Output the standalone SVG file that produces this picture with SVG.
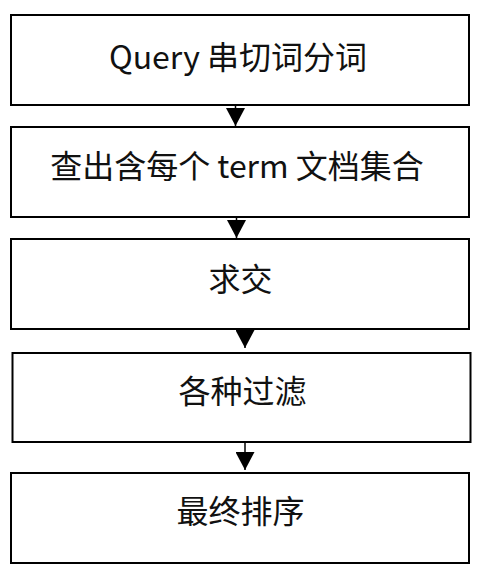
<svg xmlns="http://www.w3.org/2000/svg" width="478" height="572" viewBox="0 0 478 572">
<style>
.box{fill:#fff;stroke:#000;stroke-width:2}
.lbl{font-family:"Noto Sans CJK SC","Noto Sans",sans-serif;font-size:32px;fill:#111;text-anchor:middle}
.conn{stroke:#000;stroke-width:1.5;fill:none}
</style>
<defs>
<marker id="arr" markerUnits="userSpaceOnUse" markerWidth="18" markerHeight="19" viewBox="0 0 18 19" refX="18" refY="9.5" orient="auto">
<path d="M0,0 L18,9.5 L0,19 Z" fill="#000"/>
</marker>
</defs>
<rect width="478" height="572" fill="#fff"/>
<g id="connectors">
<line class="conn" x1="235.5" y1="105" x2="235.5" y2="126" marker-end="url(#arr)"/>
<line class="conn" x1="236.5" y1="217" x2="236.5" y2="238" marker-end="url(#arr)"/>
<line class="conn" x1="245" y1="329" x2="245" y2="348" marker-end="url(#arr)"/>
<line class="conn" x1="245" y1="443" x2="245" y2="470" marker-end="url(#arr)"/>
</g>
<g id="n1"><rect class="box" x="11" y="15" width="458" height="90"/><text class="lbl" x="238" y="69">Query 串切词分词</text></g>
<g id="n2"><rect class="box" x="11" y="127" width="458" height="90"/><text class="lbl" x="237" y="178">查出含每个 term 文档集合</text></g>
<g id="n3"><rect class="box" x="11" y="239" width="458" height="90"/><text class="lbl" x="240.5" y="291">求交</text></g>
<g id="n4"><rect class="box" x="12.5" y="353" width="458" height="89"/><text class="lbl" x="242.5" y="403">各种过滤</text></g>
<g id="n5"><rect class="box" x="11" y="473" width="458" height="90"/><text class="lbl" x="240.5" y="523">最终排序</text></g>
</svg>
